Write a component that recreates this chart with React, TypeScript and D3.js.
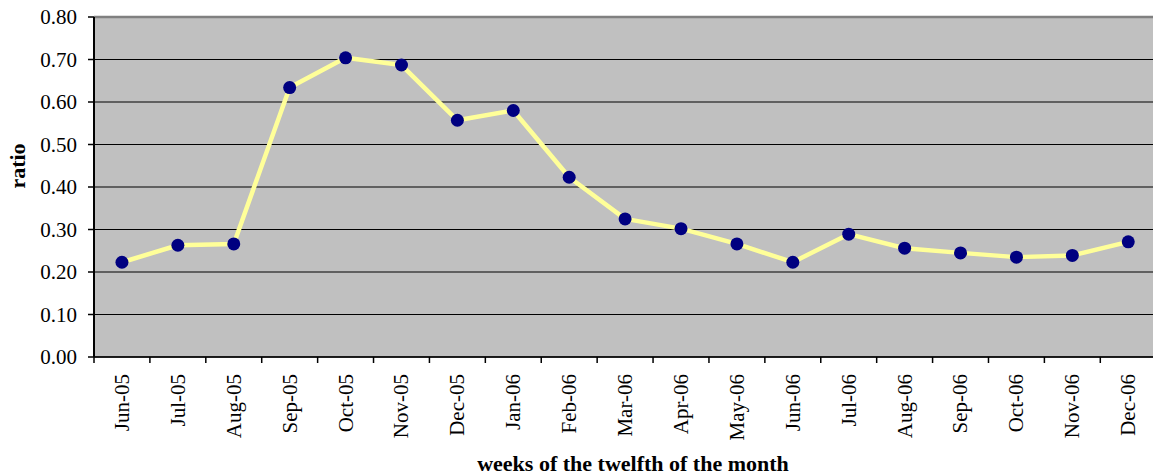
import React from "react";
import * as d3 from "d3";

const categories = ["Jun-05","Jul-05","Aug-05","Sep-05","Oct-05","Nov-05","Dec-05","Jan-06","Feb-06","Mar-06","Apr-06","May-06","Jun-06","Jul-06","Aug-06","Sep-06","Oct-06","Nov-06","Dec-06"];
const ratioValues = [0.223,0.263,0.266,0.634,0.704,0.687,0.557,0.580,0.423,0.325,0.302,0.266,0.223,0.289,0.256,0.245,0.235,0.239,0.271];
const yTicks = [0,0.1,0.2,0.3,0.4,0.5,0.6,0.7,0.8];
const xTitle = "weeks of the twelfth of the month";
const yTitle = "ratio";

const W = 1153, H = 475;
const L = 94, R = 1156.2, T = 17, B = 357;
const FONT = "Liberation Serif, Times New Roman, DejaVu Serif, serif";
const txt = { fontFamily: FONT };

export default function App() {
  const x = d3.scaleBand<string>().domain(categories).range([L, R]).padding(0);
  const y = d3.scaleLinear().domain([0, 0.8]).range([B, T]);
  const pts: [number, number][] = categories.map((c, i) => [x(c)! + x.bandwidth() / 2, y(ratioValues[i])]);
  const line = d3.line()(pts) || "";
  const boundaries = categories.map((c) => x(c)!).concat([R]);
  return (
    <svg width={W} height={H} style={{ position: "absolute", left: 0, top: 0, display: "block" }}>
      <rect x={L} y={T} width={R - L} height={B - T} fill="#C0C0C0" />
      {yTicks.map((t) => (
        <line key={t} x1={L} x2={R} y1={y(t)} y2={y(t)} stroke="#000" strokeWidth={1} />
      ))}
      <line x1={L} x2={R} y1={T} y2={T} stroke="#808080" strokeWidth={2.5} />
      <line x1={L} x2={L} y1={T} y2={B} stroke="#000" strokeWidth={2} />
      <line x1={L} x2={R} y1={B} y2={B} stroke="#000" strokeWidth={1.5} />
      {yTicks.map((t) => (
        <g key={"yt" + t}>
          <line x1={L - 6} x2={L} y1={y(t)} y2={y(t)} stroke="#000" strokeWidth={1.5} />
          <text x={77} y={y(t)} dy="0.34em" textAnchor="end" fontSize={21} fill="#000" style={txt}>{t.toFixed(2)}</text>
        </g>
      ))}
      {boundaries.map((b, i) => (
        <line key={"xt" + i} x1={b} x2={b} y1={B} y2={B + 6} stroke="#000" strokeWidth={1.5} />
      ))}
      {categories.map((c) => (
        <text key={c} transform={`translate(${x(c)! + x.bandwidth() / 2},374) rotate(-90)`} dy="0.33em" textAnchor="end" fontSize={21} fill="#000" style={txt}>{c}</text>
      ))}
      <path d={line} fill="none" stroke="#FFFF99" strokeWidth={4.5} strokeLinejoin="round" />
      {pts.map((p, i) => (
        <circle key={i} cx={p[0]} cy={p[1]} r={6.5} fill="#000080" />
      ))}
      <text x={633} y={471} textAnchor="middle" fontSize={22} fontWeight="bold" fill="#000" style={txt}>{xTitle}</text>
      <text transform={`translate(25,166) rotate(-90)`} textAnchor="middle" fontSize={22} fontWeight="bold" fill="#000" style={txt}>{yTitle}</text>
    </svg>
  );
}
